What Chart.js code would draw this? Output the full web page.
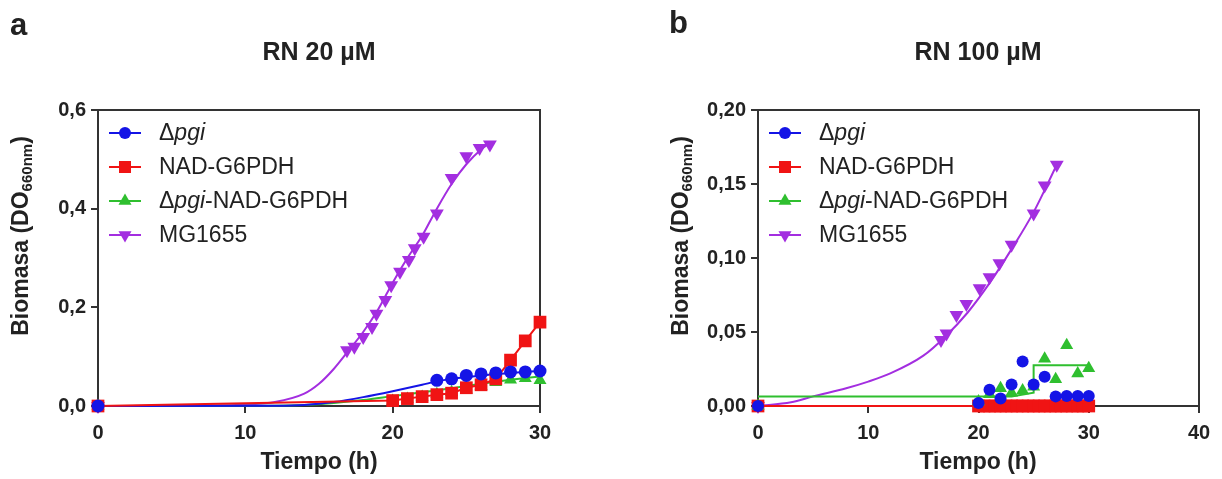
<!DOCTYPE html>
<html>
<head>
<meta charset="utf-8">
<script src="https://cdn.jsdelivr.net/npm/chart.js@4.4.1/dist/chart.umd.min.js"></script>
<style>
  body { margin: 0; background: #fff; width: 1222px; height: 479px; overflow: hidden; position: relative;
         font-family: "Liberation Sans", Arial, sans-serif; color: #222; }
  canvas { position: absolute; top: 0; }
  .txt { position: absolute; white-space: nowrap; font-weight: bold; z-index: 2; }
  .letter { font-size: 31px; line-height: 31px; }
  .title { font-size: 25px; line-height: 25px; transform: translateX(-50%); }
  .xt { font-size: 23px; line-height: 23px; transform: translateX(-50%); }
  .yt { font-size: 23px; line-height: 23px; transform: translate(-50%, -50%) rotate(-90deg); }
  .yt sub { font-size: 15px; vertical-align: -4px; }
</style>
</head>
<body>
<canvas id="chartA" width="600" height="479" style="left:0"></canvas>
<canvas id="chartB" width="582" height="479" style="left:640px"></canvas>

<div class="txt letter" style="left:10px; top:9px">a</div>
<div class="txt letter" style="left:669px; top:7px">b</div>
<div class="txt title" style="left:319px; top:39px">RN 20 &micro;M</div>
<div class="txt title" style="left:978px; top:39px">RN 100 &micro;M</div>
<div class="txt xt" style="left:319px; top:450px">Tiempo (h)</div>
<div class="txt xt" style="left:978px; top:450px">Tiempo (h)</div>
<div class="txt yt" style="left:23px; top:236px">Biomasa (DO<sub>660nm</sub>)</div>
<div class="txt yt" style="left:683px; top:236px">Biomasa (DO<sub>660nm</sub>)</div>

<script>
// series names (legend order)
const seriesNames = ['Δpgi', 'NAD-G6PDH', 'Δpgi-NAD-G6PDH', 'MG1655'];

// ---- panel a: RN 20 uM ----
const tBlueA = [0, 23, 24, 25, 26, 27, 28, 29, 30];
const blueA = [0, 0.052, 0.055, 0.062, 0.065, 0.067, 0.069, 0.069, 0.071];
const tRedA = [0, 20, 21, 22, 23, 24, 25, 26, 27, 28, 29, 30];
const redA = [0, 0.011, 0.015, 0.019, 0.023, 0.026, 0.037, 0.043, 0.055, 0.093, 0.132, 0.170];
const tGreenA = [0, 20, 21, 22, 23, 24, 25, 26, 27, 28, 29, 30];
const greenA = [0, 0.010, 0.014, 0.018, 0.024, 0.028, 0.033, 0.040, 0.048, 0.053, 0.056, 0.052];
const tPurpleA = [0, 16.9, 17.4, 18.0, 18.6, 18.9, 19.5, 19.9, 20.5, 21.1, 21.5, 22.1, 23.0, 24.0, 25.0, 25.9, 26.6];
const purpleA = [0, 0.113, 0.12, 0.14, 0.16, 0.187, 0.215, 0.245, 0.272, 0.296, 0.32, 0.343, 0.39, 0.462, 0.506, 0.523, 0.53];

// fitted curves
const tBlueFitA = [0, 12, 14, 16, 18, 20, 22, 23, 24, 26, 28, 30];
const blueFitA = [0, 0.0005, 0.002, 0.008, 0.018, 0.03, 0.043, 0.05, 0.055, 0.062, 0.067, 0.071];
const tGreenFitA = [0, 12, 14, 16, 18, 20, 22, 24, 26, 28, 30];
const greenFitA = [0, 0.0005, 0.002, 0.006, 0.012, 0.02, 0.028, 0.036, 0.045, 0.053, 0.06];
const tPurpleFitA = [0, 8, 10, 12, 14, 15, 16, 17, 18, 19, 20, 21, 22, 23, 24, 25, 26, 26.7];
const purpleFitA = [0, 0.001, 0.003, 0.008, 0.025, 0.045, 0.075, 0.112, 0.15, 0.195, 0.25, 0.3, 0.345, 0.4, 0.45, 0.49, 0.52, 0.535];

// ---- panel b: RN 100 uM ----
const tBlueB = [0, 20, 21, 22, 23, 24, 25, 26, 27, 28, 29, 30];
const blueB = [0, 0.002, 0.011, 0.005, 0.0145, 0.030, 0.0145, 0.0198, 0.0065, 0.0068, 0.0068, 0.0068];
const tRedB = [0, 20, 20.5, 21, 21.5, 22, 22.5, 23, 23.5, 24, 24.5, 25, 25.5, 26, 26.5, 27, 27.5, 28, 28.5, 29, 29.5, 30];
const redB = [0, 0, 0, 0, 0, 0, 0, 0, 0, 0, 0, 0, 0, 0, 0, 0, 0, 0, 0, 0, 0, 0];
const tGreenB = [0, 20, 21, 22, 23, 24, 25, 26, 27, 28, 29, 30];
const greenB = [0, 0.003, 0.008, 0.012, 0.009, 0.0105, 0.013, 0.032, 0.018, 0.041, 0.022, 0.0255];
const tPurpleB = [0, 16.6, 17.1, 18.0, 18.9, 20.1, 21.0, 21.9, 23.0, 25.0, 26.0, 27.1];
const purpleB = [0, 0.0446, 0.049, 0.0615, 0.069, 0.0795, 0.087, 0.0964, 0.109, 0.130, 0.149, 0.163];

const tRedFitB = [0, 30];
const redFitB = [0, 0];
const tGreenFitB = [0, 23, 25, 25, 30, 30];
const greenFitB = [0.0065, 0.0065, 0.009, 0.0275, 0.0275, 0.024];
const tPurpleFitB = [0, 3, 5, 8, 10, 12, 15, 17, 19, 21, 23, 25, 27.1];
const purpleFitB = [0, 0.0025, 0.0065, 0.012, 0.0165, 0.022, 0.034, 0.047, 0.063, 0.083, 0.106, 0.131, 0.163];

const BLUE = '#1414e6', RED = '#f01414', GREEN = '#2fbf2f', PURPLE = '#a32ee0';
const FONT = '"Liberation Sans", Arial, sans-serif';

function pts(xs, ys) { return xs.map((x, i) => ({ x: x, y: ys[i] })); }

function markers(xs, ys, color, style, r, rot, line) {
    return {
        data: pts(xs, ys), showLine: !!line, borderColor: color, borderWidth: 2,
        backgroundColor: color, pointBackgroundColor: color, pointBorderWidth: 0,
        pointStyle: style, pointRadius: r, pointRotation: rot || 0, clip: false
    };
}
function fit(xs, ys, color, tension) {
    return {
        data: pts(xs, ys), showLine: true, borderColor: color, borderWidth: 2,
        pointRadius: 0, cubicInterpolationMode: tension ? 'monotone' : 'default', tension: 0, clip: false
    };
}

const legendItems = [
    { color: BLUE, style: 'circle', radius: 6, parts: [['Δ', 0], ['pgi', 1]] },
    { color: RED, style: 'rect', radius: 8.5, parts: [[seriesNames[1], 0]] },
    { color: GREEN, style: 'triangle', radius: 7.5, parts: [['Δ', 0], ['pgi', 1], ['-NAD-G6PDH', 0]] },
    { color: PURPLE, style: 'triangle', radius: 7.5, rot: 180, parts: [[seriesNames[3], 0]] }
];

// top/right frame lines
const framePlugin = {
    id: 'frame',
    beforeDatasetsDraw(chart) {
        const a = chart.chartArea, ctx = chart.ctx;
        ctx.save();
        ctx.strokeStyle = '#333';
        ctx.lineWidth = 2;
        ctx.beginPath();
        ctx.moveTo(a.left, a.top);
        ctx.lineTo(a.right, a.top);
        ctx.lineTo(a.right, a.bottom);
        ctx.stroke();
        ctx.restore();
    }
};

const legendPlugin = {
    id: 'miniLegend',
    afterDraw(chart) {
        const a = chart.chartArea, ctx = chart.ctx;
        legendItems.forEach((it, i) => {
            const y = a.top + 23 + i * 34;
            const x0 = a.left + 11, x1 = a.left + 43;
            ctx.save();
            ctx.strokeStyle = it.color;
            ctx.fillStyle = it.color;
            ctx.lineWidth = 2;
            ctx.beginPath();
            ctx.moveTo(x0, y);
            ctx.lineTo(x1, y);
            ctx.stroke();
            Chart.helpers.drawPoint(ctx, { pointStyle: it.style, radius: it.radius, rotation: it.rot || 0, borderWidth: 0 }, (x0 + x1) / 2, y);
            let tx = a.left + 61;
            ctx.fillStyle = '#222';
            ctx.textBaseline = 'middle';
            it.parts.forEach(p => {
                ctx.font = (p[1] ? 'italic ' : '') + '23px ' + FONT;
                ctx.fillText(p[0], tx, y + 1);
                tx += ctx.measureText(p[0]).width;
            });
            ctx.restore();
        });
    }
};

function makeChart(id, datasets, xMax, yMax, yStep, dec, padLeft, padRight) {
    const axisCommon = {
        type: 'linear',
        grid: { display: true, drawOnChartArea: false, drawTicks: true, tickLength: 7, color: '#333', lineWidth: 2 },
        border: { display: true, color: '#333', width: 2 },
        ticks: { color: '#222', font: { family: FONT, size: 20, weight: 'bold' } }
    };
    return new Chart(document.getElementById(id), {
        type: 'line',
        data: { datasets: datasets },
        options: {
            responsive: false,
            animation: false,
            events: [],
            layout: { padding: { left: padLeft, right: padRight, top: 110, bottom: 23 } },
            plugins: { legend: { display: false }, tooltip: { enabled: false } },
            scales: {
                x: Object.assign({}, axisCommon, {
                    min: 0, max: xMax,
                    ticks: Object.assign({}, axisCommon.ticks, { stepSize: 10, padding: 8 }),
                    afterFit: s => { s.height = 50; }
                }),
                y: Object.assign({}, axisCommon, {
                    min: 0, max: yMax,
                    ticks: Object.assign({}, axisCommon.ticks, {
                        stepSize: yStep, padding: 5,
                        callback: v => v.toFixed(dec).replace('.', ',')
                    }),
                    afterFit: s => { s.width = 60; }
                })
            }
        },
        plugins: [framePlugin, legendPlugin]
    });
}

makeChart('chartA', [
    markers(tBlueA, blueA, BLUE, 'circle', 6.5),
    markers(tRedA, redA, RED, 'rect', 9, 0, true),
    markers(tGreenA, greenA, GREEN, 'triangle', 7.5),
    markers(tPurpleA, purpleA, PURPLE, 'triangle', 8, 180),
    fit(tBlueFitA, blueFitA, BLUE, true),
    fit(tGreenFitA, greenFitA, GREEN, true),
    fit(tPurpleFitA, purpleFitA, PURPLE, true)
], 30, 0.6, 0.2, 1, 38, 60);

makeChart('chartB', [
    markers(tBlueB, blueB, BLUE, 'circle', 6),
    markers(tGreenB, greenB, GREEN, 'triangle', 7.5),
    markers(tRedB, redB, RED, 'rect', 9),
    markers(tPurpleB, purpleB, PURPLE, 'triangle', 8, 180),
    fit(tRedFitB, redFitB, RED, false),
    fit(tGreenFitB, greenFitB, GREEN, false),
    fit(tPurpleFitB, purpleFitB, PURPLE, true)
], 40, 0.2, 0.05, 2, 58, 23);
</script>
</body>
</html>
